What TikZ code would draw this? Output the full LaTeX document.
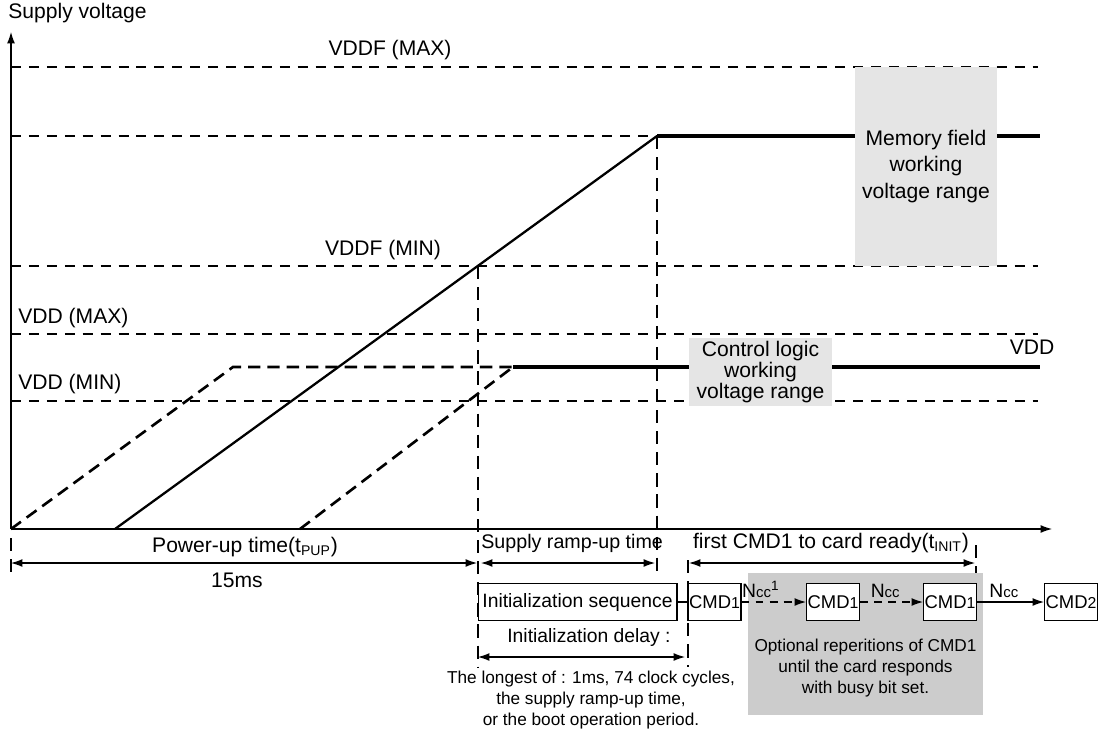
\documentclass[tikz,border=0pt]{standalone}
\usepackage{fontspec}
\setmainfont{Liberation Sans}
\usepackage{tikz}
\usetikzlibrary{arrows.meta,positioning}

\tikzset{
  guideline/.style={dash pattern=on 5.7pt off 4.5pt, line width=0.6pt},
  cutline/.style={dash pattern=on 7.5pt off 4.5pt, line width=0.6pt},
  supplyline/.style={line width=1.3pt},
  railline/.style={line width=1.9pt},
  rampdash/.style={line width=1.5pt, dash pattern=on 7pt off 4pt},
  arrowline/.style={-{Latex[length=6.5pt,width=4.5pt]}, line width=0.6pt},
  spanline/.style={{Latex[length=6.5pt,width=4.5pt]}-{Latex[length=6.5pt,width=4.5pt]}, line width=0.6pt},
  txt/.style={inner sep=0pt},
  rangebox/.style={fill=black!10, align=center, inner sep=0pt},
  cmdbox/.style={draw, fill=white, line width=0.6pt, minimum width=1.06cm, minimum height=0.74cm, inner sep=0pt, font=\fontsize{10.5}{12}\selectfont},
}

\begin{document}
\begin{tikzpicture}[x=0.02cm, y=-0.02cm, font=\fontsize{12}{14}\selectfont]
      \useasboundingbox (0,0) rectangle (1098,736);

      \draw[guideline] (11,67) -- (1038,67);
      \draw[guideline] (11,136) -- (1038,136);
      \draw[guideline] (11,266) -- (1038,266);
      \draw[guideline] (11,334) -- (1038,334);
      \draw[guideline] (11,401) -- (1038,401);

      \draw[cutline] (478,266) -- (478,667);
      \draw[cutline] (657,136) -- (657,573);
      \draw[cutline] (688,560) -- (688,667);
      \draw[cutline] (976,545) -- (976,577);
      \draw[cutline] (11,538) -- (11,575);

      \draw[supplyline] (115,529) -- (657,136);
      \draw[railline] (657,136) -- (1040,136);
      \draw[rampdash] (11,529) -- (233,367) -- (513,367);
      \draw[rampdash] (300,529) -- (513,367);
      \draw[railline] (513,367) -- (1040,367);

      \node[rangebox, minimum width=2.84cm, minimum height=3.98cm, font=\fontsize{12}{15}\selectfont] (memory) at (926,166.5) {Memory field\\working\\voltage range};
      \node[rangebox, minimum width=2.86cm, minimum height=1.36cm, font=\fontsize{12}{12}\selectfont] (logic) at (760.5,372) {Control logic\\working\\voltage range};

      \coordinate (origin) at (11,529);
      \coordinate (ytop) at (11,32);
      \coordinate (xend) at (1052,529);
      \draw[arrowline] (origin) -- (ytop);
      \draw[arrowline] (origin) -- (xend);

      \node[txt, anchor=west] (ylabel) at (8,13) {Supply voltage};
      \node[txt] (vddfmax) at (390,50) {VDDF (MAX)};
      \node[txt] (vddfmin) at (383,250) {VDDF (MIN)};
      \node[txt, anchor=west] (vddmax) at (18,318) {VDD (MAX)};
      \node[txt, anchor=west] (vddmin) at (18,384) {VDD (MIN)};
      \node[txt] (vdd) at (1032,347) {VDD};

      \node[txt] (pup) at (245,547) {Power-up time(t\textsubscript{PUP})};
      \node[txt] (pupval) at (237,580) {15ms};
      \node[txt, anchor=west, font=\fontsize{11.2}{13}\selectfont] (ramp) at (481,543) {Supply ramp-up time};
      \node[txt] (ready) at (831,543) {first CMD1 to card ready(t\textsubscript{INIT})};

      \coordinate (p0) at (11,563);
      \coordinate (p1) at (477,563);
      \coordinate (r0) at (481,563);
      \coordinate (r1) at (655,563);
      \coordinate (c0) at (689,563);
      \coordinate (c1) at (975,563);
      \draw[spanline] (p0) -- (p1);
      \draw[spanline] (r0) -- (r1);
      \draw[spanline] (c0) -- (c1);

      \fill[black!20] (748,573) rectangle (983,715);
      \node[cmdbox, minimum width=3.98cm, font=\fontsize{11}{13}\selectfont] (initseq) at (577.5,602) {Initialization sequence};
      \node[cmdbox] (cmdA) at (714.5,602) {CMD{\fontsize{9}{10}\selectfont 1}};
      \node[cmdbox] (cmdB) at (833,602) {CMD{\fontsize{9}{10}\selectfont 1}};
      \node[cmdbox] (cmdC) at (950,602) {CMD{\fontsize{9}{10}\selectfont 1}};
      \node[cmdbox] (cmdD) at (1071,602) {CMD{\fontsize{9}{10}\selectfont 2}};

      \draw[line width=0.6pt] (initseq) -- (cmdA);
      \draw[arrowline, dash pattern=on 4.5pt off 3.5pt] (cmdA) -- node[above, pos=0.3, inner sep=2pt, font=\fontsize{11}{13}\selectfont] (nccA) {N{\fontsize{8.5}{10}\selectfont cc}\textsuperscript{1}} (cmdB);
      \draw[arrowline, dash pattern=on 4.5pt off 3.5pt] (cmdB) -- node[above, pos=0.4, inner sep=2pt, font=\fontsize{11}{13}\selectfont] (nccB) {N{\fontsize{8.5}{10}\selectfont cc}} (cmdC);
      \draw[arrowline] (cmdC) -- node[above, pos=0.4, inner sep=2pt, font=\fontsize{11}{13}\selectfont] (nccC) {N{\fontsize{8.5}{10}\selectfont cc}} (cmdD);

      \node[txt, align=center, font=\fontsize{9.8}{12.2}\selectfont] (repeat) at (865.5,668) {Optional reperitions of CMD1\\until the card responds\\with busy bit set.};

      \node[txt, font=\fontsize{11}{13}\selectfont] (delay) at (589,637) {Initialization delay :};
      \coordinate (d0) at (478,657);
      \coordinate (d1) at (685,657);
      \draw[spanline] (d0) -- (d1);
      \node[txt, align=center, font=\fontsize{9.8}{12}\selectfont] (longest) at (591,700) {The longest of : 1ms, 74 clock cycles,\\the supply ramp-up time,\\or the boot operation period.};

    \end{tikzpicture}
\end{document}
